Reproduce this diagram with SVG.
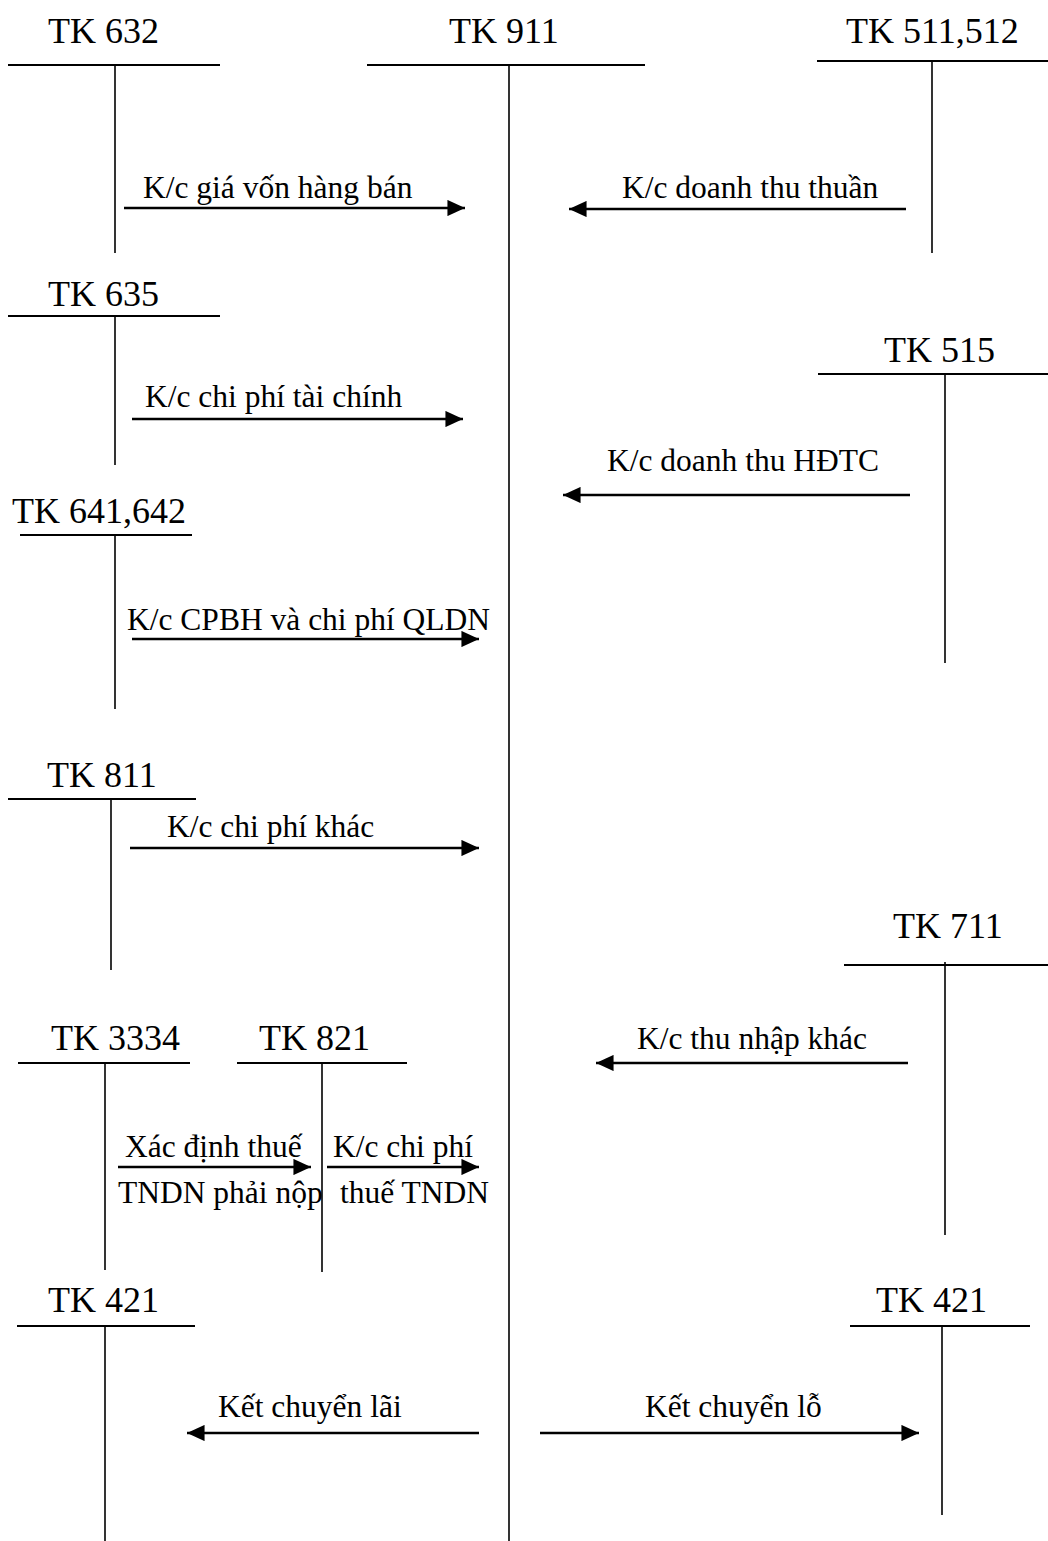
<svg xmlns="http://www.w3.org/2000/svg" width="1048" height="1541" viewBox="0 0 1048 1541">
<defs>
<marker id="ah" markerWidth="6.5" markerHeight="6" refX="6.5" refY="3" orient="auto" markerUnits="strokeWidth"><path d="M0,0 L6.5,3 L0,6 Z" fill="#000"/></marker>
<style>
.t{font-family:"Liberation Serif","Times New Roman",serif;font-size:36px;fill:#000}
.l{font-family:"Liberation Serif","Times New Roman",serif;font-size:31.5px;fill:#000}
.h{stroke:#000;stroke-width:2;fill:none}
.v{stroke:#000;stroke-width:1.6;fill:none}
.a{stroke:#000;stroke-width:2.7;fill:none;marker-end:url(#ah)}
</style>
</defs>
<rect width="1048" height="1541" fill="#fff"/>
<g id="tk632"><text class="t" x="48" y="43">TK 632</text><line class="h" x1="8" y1="65" x2="220" y2="65"/><line class="v" x1="115" y1="65" x2="115" y2="253"/></g>
<g id="tk911"><text class="t" x="449" y="43">TK 911</text><line class="h" x1="367" y1="65" x2="645" y2="65"/><line class="v" x1="509" y1="65" x2="509" y2="1541"/></g>
<g id="tk511"><text class="t" x="846" y="43">TK 511,512</text><line class="h" x1="817" y1="61" x2="1048" y2="61"/><line class="v" x1="932" y1="61" x2="932" y2="253"/></g>
<g id="tk635"><text class="t" x="48" y="306">TK 635</text><line class="h" x1="8" y1="316" x2="220" y2="316"/><line class="v" x1="115" y1="316" x2="115" y2="465"/></g>
<g id="tk515"><text class="t" x="884" y="362">TK 515</text><line class="h" x1="818" y1="374" x2="1048" y2="374"/><line class="v" x1="945" y1="374" x2="945" y2="663"/></g>
<g id="tk641"><text class="t" x="12" y="523">TK 641,642</text><line class="h" x1="20" y1="535" x2="192" y2="535"/><line class="v" x1="115" y1="535" x2="115" y2="709"/></g>
<g id="tk811"><text class="t" x="47" y="787">TK 811</text><line class="h" x1="8" y1="799" x2="196" y2="799"/><line class="v" x1="111" y1="799" x2="111" y2="970"/></g>
<g id="tk711"><text class="t" x="893" y="938">TK 711</text><line class="h" x1="844" y1="965" x2="1048" y2="965"/><line class="v" x1="945" y1="962" x2="945" y2="1235"/></g>
<g id="tk3334"><text class="t" x="51" y="1050">TK 3334</text><line class="h" x1="18" y1="1063" x2="190" y2="1063"/><line class="v" x1="105" y1="1063" x2="105" y2="1270"/></g>
<g id="tk821"><text class="t" x="259" y="1050">TK 821</text><line class="h" x1="237" y1="1063" x2="407" y2="1063"/><line class="v" x1="322" y1="1063" x2="322" y2="1272"/></g>
<g id="tk421a"><text class="t" x="48" y="1312">TK 421</text><line class="h" x1="17" y1="1326" x2="195" y2="1326"/><line class="v" x1="105" y1="1326" x2="105" y2="1541"/></g>
<g id="tk421b"><text class="t" x="876" y="1312">TK 421</text><line class="h" x1="850" y1="1326" x2="1030" y2="1326"/><line class="v" x1="942" y1="1326" x2="942" y2="1515"/></g>
<g id="connectors">
<line class="a" x1="124" y1="208" x2="465" y2="208"/>
<text class="l" x="143" y="198">K/c giá vốn hàng bán</text>
<line class="a" x1="906" y1="209" x2="569" y2="209"/>
<text class="l" x="622" y="198">K/c doanh thu thuần</text>
<line class="a" x1="132" y1="419" x2="463" y2="419"/>
<text class="l" x="145" y="407">K/c chi phí tài chính</text>
<line class="a" x1="910" y1="495" x2="563" y2="495"/>
<text class="l" x="607" y="471">K/c doanh thu HĐTC</text>
<line class="a" x1="132" y1="639" x2="479" y2="639"/>
<text class="l" x="127" y="630">K/c CPBH và chi phí QLDN</text>
<line class="a" x1="130" y1="848" x2="479" y2="848"/>
<text class="l" x="167" y="837">K/c chi phí khác</text>
<line class="a" x1="908" y1="1063" x2="596" y2="1063"/>
<text class="l" x="637" y="1049">K/c thu nhập khác</text>
<line class="a" x1="118" y1="1167" x2="311" y2="1167"/>
<text class="l" x="125" y="1157">Xác định thuế</text>
<text class="l" x="118" y="1203">TNDN phải nộp</text>
<line class="a" x1="327" y1="1167" x2="479" y2="1167"/>
<text class="l" x="333" y="1157">K/c chi phí</text>
<text class="l" x="340" y="1203">thuế TNDN</text>
<line class="a" x1="479" y1="1433" x2="187" y2="1433"/>
<text class="l" x="218" y="1417">Kết chuyển lãi</text>
<line class="a" x1="540" y1="1433" x2="919" y2="1433"/>
<text class="l" x="645" y="1417">Kết chuyển lỗ</text>
</g>
</svg>
